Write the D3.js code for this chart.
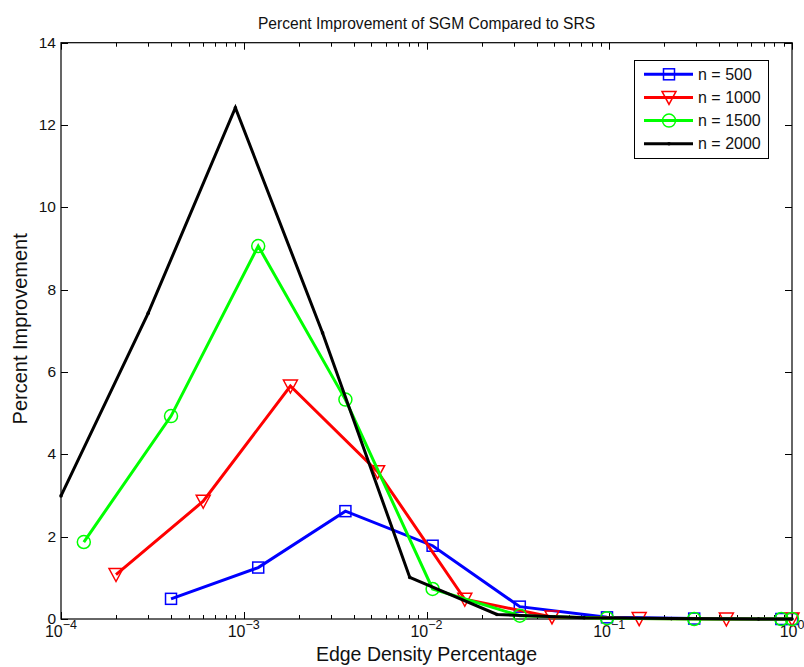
<!DOCTYPE html>
<html>
<head>
<meta charset="utf-8">
<script src="https://cdn.jsdelivr.net/npm/d3@7"></script>
<style>
  html, body { margin: 0; padding: 0; background: #fff; }
  svg { display: block; font-family: "Liberation Sans", Arial, Helvetica, sans-serif; }
</style>
</head>
<body>
<div id="chart"></div>
<script>
// data
const xBlue  = [4e-4, 1.2e-3, 3.6e-3, 1.08e-2, 3.24e-2, 9.72e-2, 0.2916, 0.8748, 1];
const yBlue  = [0.49, 1.25, 2.62, 1.78, 0.30, 0.04, 0.01, 0, 0];
const xRed   = [2e-4, 6e-4, 1.8e-3, 5.4e-3, 1.62e-2, 4.86e-2, 0.1458, 0.4374, 1];
const yRed   = [1.08, 2.86, 5.66, 3.58, 0.48, 0.05, 0.01, 0, 0];
const xGreen = [1.333e-4, 4e-4, 1.2e-3, 3.6e-3, 1.08e-2, 3.24e-2, 9.72e-2, 0.2916, 0.8748, 1];
const yGreen = [1.87, 4.93, 9.06, 5.33, 0.73, 0.08, 0.02, 0, 0, 0];
const xBlack = [1e-4, 3e-4, 9e-4, 2.7e-3, 8.1e-3, 2.43e-2, 7.29e-2, 0.2187, 0.6561, 1];
const yBlack = [2.99, 7.43, 12.42, 6.95, 1.01, 0.11, 0.03, 0.01, 0, 0];

const seriesNames = ['n = 500', 'n = 1000', 'n = 1500', 'n = 2000'];
const xDecades = [1e-4, 1e-3, 1e-2, 1e-1, 1];
const xExponents = ['\u22124', '\u22123', '\u22122', '\u22121', '0'];
const yTicks = [0, 2, 4, 6, 8, 10, 12, 14];

const series = [
  { name: seriesNames[0], xs: xBlue,  ys: yBlue,  color: '#0000ff', marker: 'square' },
  { name: seriesNames[1], xs: xRed,   ys: yRed,   color: '#ff0000', marker: 'triangle' },
  { name: seriesNames[2], xs: xGreen, ys: yGreen, color: '#00ff00', marker: 'circle' },
  { name: seriesNames[3], xs: xBlack, ys: yBlack, color: '#000000', marker: 'dot' }
];

const width = 804, height = 667;
const plotL = 61, plotR = 792, plotT = 42.7, plotB = 619;

const svg = d3.select('#chart').append('svg')
  .attr('width', width)
  .attr('height', height)
  .attr('viewBox', [0, 0, width, height]);

const x = d3.scaleLog().domain([1e-4, 1]).range([plotL, plotR]);
const y = d3.scaleLinear().domain([0, 14]).range([plotB, plotT]);

// ticks (inside, top+bottom, left+right)
const tickG = svg.append('g').attr('stroke', '#000').attr('stroke-width', 1);
const minor = [];
for (let d = 1e-4; d < 0.9; d *= 10) {
  for (let k = 2; k <= 9; k++) minor.push(d * k);
}
minor.forEach(v => {
  const px = Math.round(x(v)) + 0.5;
  tickG.append('line').attr('x1', px).attr('x2', px).attr('y1', plotB).attr('y2', plotB - 4);
  tickG.append('line').attr('x1', px).attr('x2', px).attr('y1', plotT).attr('y2', plotT + 4);
});
xDecades.forEach(v => {
  const px = Math.round(x(v)) + 0.5;
  tickG.append('line').attr('x1', px).attr('x2', px).attr('y1', plotB).attr('y2', plotB - 7);
  tickG.append('line').attr('x1', px).attr('x2', px).attr('y1', plotT).attr('y2', plotT + 7);
});
yTicks.forEach(v => {
  const py = Math.round(y(v)) + 0.5;
  tickG.append('line').attr('x1', plotL).attr('x2', plotL + 7).attr('y1', py).attr('y2', py);
  tickG.append('line').attr('x1', plotR).attr('x2', plotR - 7).attr('y1', py).attr('y2', py);
});

// axes box
svg.append('rect')
  .attr('x', plotL).attr('y', plotT)
  .attr('width', plotR - plotL).attr('height', plotB - plotT)
  .attr('fill', 'none').attr('stroke', '#000').attr('stroke-width', 1.2);

// y tick labels
svg.append('g').selectAll('text').data(yTicks).join('text')
  .attr('x', plotL - 5)
  .attr('y', d => y(d) + 5)
  .attr('text-anchor', 'end')
  .attr('font-size', 15.5)
  .attr('fill', '#111')
  .text(d => d);

// x tick labels 10^n, whole label centred on the tick
xDecades.forEach((v, i) => {
  const t = svg.append('text')
    .attr('x', x(v))
    .attr('y', 637)
    .attr('text-anchor', 'middle')
    .attr('font-size', 16)
    .attr('fill', '#111');
  t.append('tspan').text('10');
  t.append('tspan').attr('font-size', 12.5).attr('dy', -8).text(xExponents[i]);
});

// lines and markers
const line = d3.line().x(d => x(d[0])).y(d => y(d[1]));

function drawMarker(g, type, color, cx, cy) {
  if (type === 'square') {
    g.append('rect').attr('x', cx - 5.5).attr('y', cy - 5.5).attr('width', 11).attr('height', 11)
      .attr('fill', 'none').attr('stroke', color).attr('stroke-width', 1.5);
  } else if (type === 'triangle') {
    g.append('path').attr('d', `M${cx - 7},${cy - 6}L${cx + 7},${cy - 6}L${cx},${cy + 7}Z`)
      .attr('fill', 'none').attr('stroke', color).attr('stroke-width', 1.5);
  } else if (type === 'circle') {
    g.append('circle').attr('cx', cx).attr('cy', cy).attr('r', 6.5)
      .attr('fill', 'none').attr('stroke', color).attr('stroke-width', 1.5);
  } else {
    g.append('circle').attr('cx', cx).attr('cy', cy).attr('r', 1.8).attr('fill', color);
  }
}

series.forEach(s => {
  const pts = s.xs.map((v, i) => [v, s.ys[i]]);
  const g = svg.append('g');
  g.append('path')
    .attr('d', line(pts))
    .attr('fill', 'none')
    .attr('stroke', s.color)
    .attr('stroke-width', 3)
    .attr('stroke-linejoin', 'miter');
  pts.forEach(p => drawMarker(g, s.marker, s.color, x(p[0]), y(p[1])));
});

// title and labels
svg.append('text')
  .attr('x', (plotL + plotR) / 2).attr('y', 29)
  .attr('text-anchor', 'middle').attr('font-size', 15.6).attr('fill', '#111')
  .text('Percent Improvement of SGM Compared to SRS');

svg.append('text')
  .attr('x', (plotL + plotR) / 2).attr('y', 661)
  .attr('text-anchor', 'middle').attr('font-size', 19.5).attr('fill', '#111')
  .text('Edge Density Percentage');

svg.append('text')
  .attr('transform', `translate(27,${(plotT + plotB) / 2 - 2}) rotate(-90)`)
  .attr('text-anchor', 'middle').attr('font-size', 20).attr('fill', '#111')
  .text('Percent Improvement');

// legend
const lg = svg.append('g');
lg.append('rect')
  .attr('x', 634.5).attr('y', 60.5).attr('width', 134).attr('height', 98)
  .attr('fill', '#fff').attr('stroke', '#000').attr('stroke-width', 1);
const rowY = d3.scaleLinear().domain([0, 3]).range([74.3, 143.7]);
series.forEach((s, i) => {
  const ry = rowY(i);
  lg.append('line').attr('x1', 644).attr('x2', 693).attr('y1', ry).attr('y2', ry)
    .attr('stroke', s.color).attr('stroke-width', 3);
  drawMarker(lg, s.marker, s.color, 669, ry);
  lg.append('text').attr('x', 698).attr('y', ry + 5.5)
    .attr('font-size', 16).attr('fill', '#111').text(s.name);
});
</script>
</body>
</html>
